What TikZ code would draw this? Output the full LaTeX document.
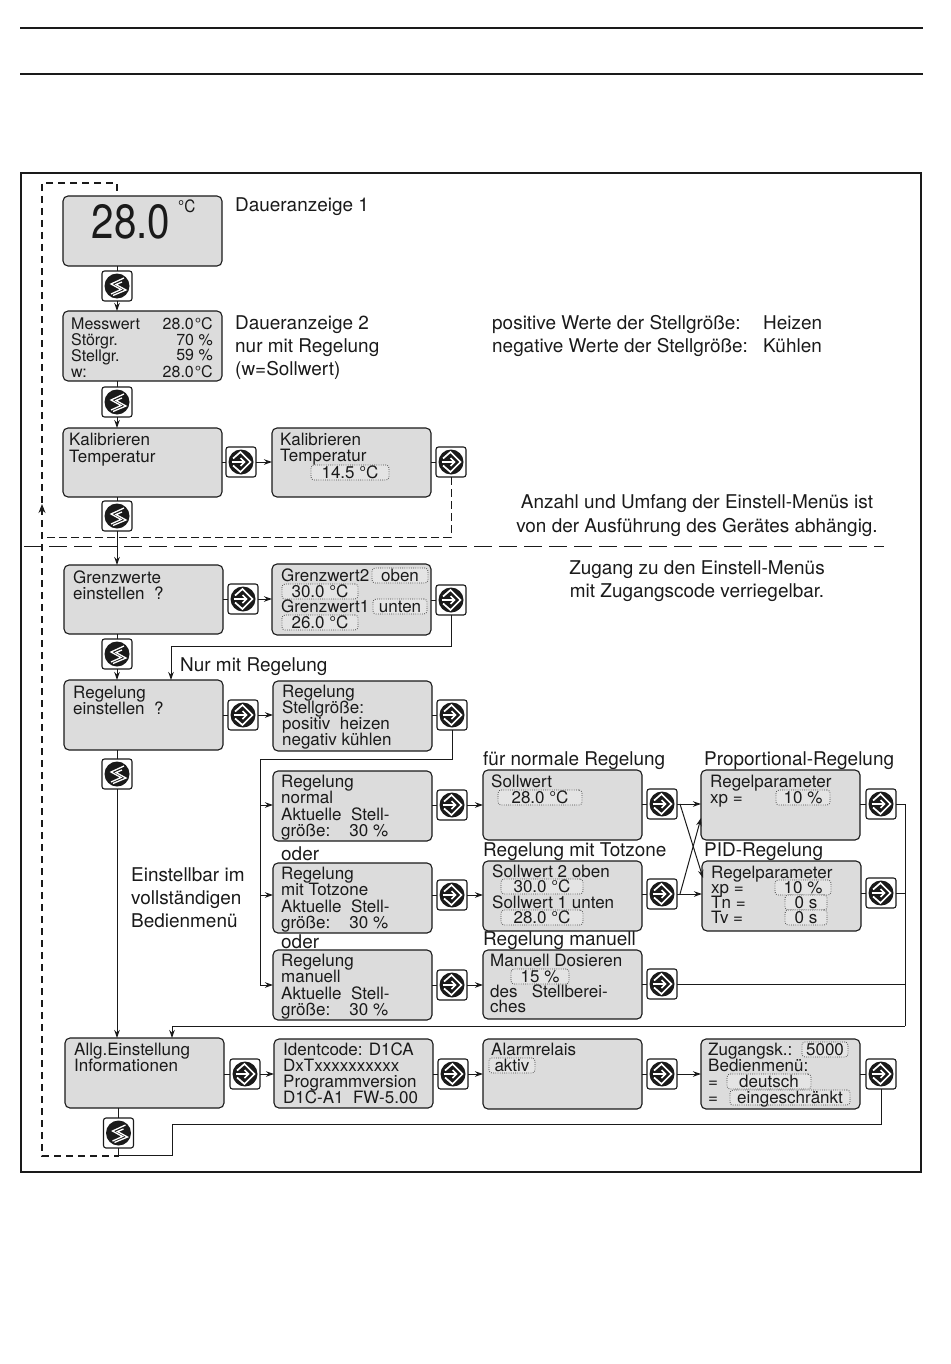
\documentclass[tikz,border=0pt]{standalone}
\usepackage{fontspec}
\usepackage{graphicx}
\setmainfont{TeX Gyre Heros}
\usetikzlibrary{arrows.meta,calc}
\definecolor{lcdgray}{HTML}{DCDCDC}
\definecolor{fldgray}{HTML}{E4E4E4}
\definecolor{ink}{HTML}{1A1A1A}
\newcounter{tcnt}
\tikzset{
  lcdbox/.style={draw=ink,fill=lcdgray,line width=1.1pt,rounded corners=5pt,inner sep=0pt,outer sep=0pt},
  btn/.style={draw=ink,fill=white,line width=1.1pt,rounded corners=2.5pt,minimum width=30pt,minimum height=30pt,inner sep=0pt,outer sep=0pt},
  conn/.style={draw=ink,line width=1pt},
  arr/.style={conn,-{Stealth[length=8pt,width=5.5pt]}},
  loopdash/.style={draw=ink,line width=1.1pt,dash pattern=on 7pt off 5pt},
  thindash/.style={draw=ink,line width=1pt,dash pattern=on 8pt off 4pt},
  longdash/.style={draw=ink,line width=1pt,dash pattern=on 18pt off 7pt},
  frameline/.style={draw=ink,line width=1.6pt},
  lt/.style={anchor=base west,inner sep=0pt,text=ink,font=\fontsize{17}{18}\selectfont},
  rt/.style={anchor=base east,inner sep=0pt,text=ink,font=\fontsize{16}{18}\selectfont},
  ot/.style={anchor=base west,inner sep=0pt,text=ink,font=\fontsize{18.95}{20}\selectfont},
  oc/.style={anchor=base,inner sep=0pt,text=ink,font=\fontsize{18.95}{20}\selectfont},
  fieldbox/.style={anchor=base,draw=ink!80,fill=fldgray,line width=.8pt,dash pattern=on .8pt off 1.4pt,rounded corners=3pt,inner xsep=0pt,inner ysep=1.5pt,text height=11.5pt,text depth=.5pt,text=ink,font=\fontsize{17}{18}\selectfont},
}
\newcommand{\lcd}[5]{%
  \pgfmathsetmacro{\lcdw}{#4-#2}\pgfmathsetmacro{\lcdh}{#5-#3}%
  \pgfmathsetmacro{\lcdx}{(#4+#2)/2}\pgfmathsetmacro{\lcdy}{(#5+#3)/2}%
  \node[lcdbox,minimum width=\lcdw pt,minimum height=\lcdh pt] (#1) at (\lcdx,\lcdy) {};}
\newcommand{\lt}[3]{\stepcounter{tcnt}\node[lt] (t\arabic{tcnt}) at (#1,#2) {#3};}
\newcommand{\rt}[3]{\stepcounter{tcnt}\node[rt] (t\arabic{tcnt}) at (#1,#2) {#3};}
\newcommand{\ot}[3]{\stepcounter{tcnt}\node[ot] (t\arabic{tcnt}) at (#1,#2) {#3};}
\newcommand{\oc}[3]{\stepcounter{tcnt}\node[oc] (t\arabic{tcnt}) at (#1,#2) {#3};}
\newcommand{\fld}[4]{\stepcounter{tcnt}\node[fieldbox,minimum width=#3 pt] (t\arabic{tcnt}) at (#1,#2) {#4};}
\newcommand{\sbtn}[3]{%
  \node[btn] (#1) at (#2,#3) {};
  \fill[ink] (#1.center) circle (12.5);
  \draw[white,line width=1.3pt,line join=miter] ($(#1.center)+(7,-8)$) -- ++(-13,6) -- ++(10,5.5) -- ++(-10,4.5);
  \draw[white,line width=1.3pt,line join=miter] ($(#1.center)+(5,-4)$) -- ++(-6,2.5) -- ++(10,5.5) -- ++(-13,5.5);}
\newcommand{\ebtn}[3]{%
  \node[btn] (#1) at (#2,#3) {};
  \fill[ink] (#1.center) circle (12.5);
  \draw[white,line width=1.7pt,line join=miter] ($(#1.center)+(-8,-3.5)$) -- ++(7.5,-6.5) -- ++(10,10) -- ++(-10,10) -- ++(-7.5,-6.5);
  \draw[white,line width=1.5pt] ($(#1.center)+(-9.5,0)$) -- ++(13,0);
  \draw[white,line width=1.5pt] ($(#1.center)+(-.5,-4)$) -- ++(4,4) -- ++(-4,4);}
\begin{document}
\begin{tikzpicture}[x=1pt,y=-1pt]
\useasboundingbox (0,0) rectangle (950,1364);
\fill[white] (0,0) rectangle (950,1364);
% header rules and frame
\coordinate (h1a) at (20,28); \coordinate (h1b) at (923,28);
\coordinate (h2a) at (20,74); \coordinate (h2b) at (923,74);
\draw[frameline] (h1a) -- (h1b);
\draw[frameline] (h2a) -- (h2b);
\draw[frameline] (21,173) rectangle (921,1172);
% boxes
\lcd{bA}{63}{196}{222}{266}
\lcd{bB}{63}{311}{222}{381}
\lcd{bC}{63}{428}{222}{497}
\lcd{bD}{272}{428}{431}{497}
\lcd{bE}{64}{565}{223}{634}
\lcd{bF}{272}{564}{431}{635}
\lcd{bG}{64}{680}{223}{750}
\lcd{bH}{273}{681}{432}{751}
\lcd{bI}{273}{771}{432}{841}
\lcd{bJ}{273}{863}{432}{933}
\lcd{bK}{273}{950}{432}{1020}
\lcd{bL}{483}{770}{642}{840}
\lcd{bM}{483}{861}{642}{931}
\lcd{bN}{483}{950}{642}{1019}
\lcd{bO}{701}{770}{860}{840}
\lcd{bP}{702}{861}{861}{931}
\lcd{bQ}{65}{1038}{224}{1108}
\lcd{bR}{274}{1039}{433}{1108}
\lcd{bS}{483}{1039}{642}{1109}
\lcd{bT}{701}{1039}{860}{1109}
% buttons
\sbtn{sA}{117}{286}
\sbtn{sB}{117}{402}
\sbtn{sC}{117}{516}
\sbtn{sD}{117}{654}
\sbtn{sE}{117}{774}
\sbtn{sF}{118.5}{1133}
\ebtn{eA}{241}{462}
\ebtn{eB}{451}{462}
\ebtn{eC}{243}{599}
\ebtn{eD}{451}{600}
\ebtn{eE}{243}{715}
\ebtn{eF}{452}{715}
\ebtn{eG}{452}{805}
\ebtn{eH}{452}{895}
\ebtn{eI}{452}{985}
\ebtn{eJ}{662}{804}
\ebtn{eK}{662}{894}
\ebtn{eL}{662}{984}
\ebtn{eM}{881}{804}
\ebtn{eN}{881}{893}
\ebtn{eO}{245}{1074}
\ebtn{eP}{453}{1074}
\ebtn{eQ}{662}{1074}
\ebtn{eR}{881}{1074}
% helper coordinates
\coordinate (lpT) at (42,183); \coordinate (lpB) at (42,1156);
\coordinate (lpS) at (117,191); \coordinate (lpM) at (42,537);
\coordinate (lpA) at (42,504);
\coordinate (ldA) at (24,546); \coordinate (ldB) at (884,546);
\coordinate (trunk) at (260,759);
\coordinate (ret) at (905,1026);
\coordinate (retB) at (172,1026);
\coordinate (cross1) at (680,804); \coordinate (cross2) at (680,894);
\coordinate (nurR) at (171,646);
% dashed return loop
\draw[loopdash] (lpS) -- (117,183) -- (lpT) -- (lpB) -- (sF |- lpB);
\draw[thindash] (eB.south) -- (eB |- lpM) -- (lpM);
\draw[conn,-{Stealth[length=9pt,width=7pt]}] (lpA) ++(0,9) -- (lpA);
\draw[longdash] (ldA) -- (ldB);
% vertical chain
\draw[conn] (sA |- bA.south) -- (sA.north);
\draw[arr] (sA.south) -- (sA |- bB.north);
\draw[conn] (sB |- bB.south) -- (sB.north);
\draw[arr] (sB.south) -- (sB |- bC.north);
\draw[conn] (sC |- bC.south) -- (sC.north);
\draw[arr] (sC.south) -- (sC |- bE.north);
\draw[conn] (sD |- bE.south) -- (sD.north);
\draw[arr] (sD.south) -- (sD |- bG.north);
\draw[conn] (sE |- bG.south) -- (sE.north);
\draw[arr] (sE.south) -- (sE |- bQ.north);
\draw[conn] (sF |- bQ.south) -- (sF.north);
% horizontal chain
\foreach \l/\b/\r in {bC/eA/bD,bE/eC/bF,bG/eE/bH,bI/eG/bL,bJ/eH/bM,bK/eI/bN,bQ/eO/bR,bR/eP/bS,bS/eQ/bT}{
  \draw[conn] (\b -| \l.east) -- (\b.west);
  \draw[arr] (\b.east) -- (\b -| \r.west);
}
\foreach \l/\b in {bD/eB,bF/eD,bH/eF,bL/eJ,bM/eK,bN/eL,bO/eM,bP/eN,bT/eR}{
  \draw[conn] (\b -| \l.east) -- (\b.west);
}
% feedback links
\draw[arr] (eD.south) -- (eD |- nurR) -- (nurR) -- (nurR |- bG.north);
\draw[conn] (eF.south) -- (eF |- trunk) -- (trunk) -- (trunk |- eI);
\draw[arr] (trunk |- eG) -- (eG -| bI.west);
\draw[arr] (trunk |- eH) -- (eH -| bJ.west);
\draw[arr] (trunk |- eI) -- (eI -| bK.west);
% crossing links
\draw[arr] (eJ.east) -- (eJ -| bO.west);
\draw[arr] (eK.east) -- (eK -| bP.west);
\draw[arr] (cross1) -- (703,878);
\draw[arr] (cross2) -- (701,818);
% collecting return
\draw[conn] (eM.east) -- (eM -| ret) -- (ret);
\draw[conn] (eN.east) -- (eN -| ret);
\draw[conn] (eL.east) -- (eL -| ret);
\draw[arr] (ret) -- (retB) -- (retB |- bQ.north);
\draw[conn] (eR.south) -- (eR |- 0,1124) -- (172,1124) -- (172,1155) -- (sF |- 0,1155) -- (sF.south);
% big display
\node[anchor=base,inner sep=0pt,text=ink,font=\fontsize{48}{50}\selectfont] (bigt) at (131,239) {\scalebox{.84}[1]{28.0}};
\node[anchor=base west,inner sep=0pt,text=ink,font=\fontsize{17}{18}\selectfont] (bigu) at (178,213) {\scalebox{.9}[1]{°C}};
% outside labels
\ot{235}{212}{Daueranzeige 1}
\ot{235}{329}{Daueranzeige 2}
\ot{235}{352}{nur mit Regelung}
\ot{235}{375}{(w=Sollwert)}
\ot{492}{329}{positive Werte der Stellgröße:}
\ot{763}{329}{Heizen}
\ot{492}{352}{negative Werte der Stellgröße:}
\ot{763}{352}{Kühlen}
\oc{697}{508}{Anzahl und Umfang der Einstell-Menüs ist}
\oc{697}{532}{von der Ausführung des Gerätes abhängig.}
\oc{697}{574}{Zugang zu den Einstell-Menüs}
\oc{697}{597}{mit Zugangscode verriegelbar.}
\ot{180}{671}{Nur mit Regelung}
\ot{131}{881}{Einstellbar im}
\ot{131}{904}{vollständigen}
\ot{131}{927}{Bedienmenü}
\ot{281}{860}{oder}
\ot{281}{948}{oder}
\ot{483}{765}{für normale Regelung}
\ot{704}{765}{Proportional-Regelung}
\ot{483}{856}{Regelung mit Totzone}
\ot{704}{856}{PID-Regelung}
\ot{483}{945}{Regelung manuell}
% box B
\lt{71}{329}{\fontsize{16}{18}\selectfont Messwert}\rt{213}{329}{28.0\hspace{1pt}°C}
\lt{71}{345}{\fontsize{16}{18}\selectfont Störgr.}\rt{213}{345}{70 \%}
\lt{71}{361}{\fontsize{16}{18}\selectfont Stellgr.}\rt{213}{360}{59 \%}
\lt{71}{377}{\fontsize{16}{18}\selectfont w:}\rt{213}{377}{28.0\hspace{1pt}°C}
% calibrate
\lt{69}{445}{Kalibrieren}
\lt{69}{462}{Temperatur}
\lt{280}{445}{Kalibrieren}
\lt{280}{461}{Temperatur}
\fld{350}{478}{78}{14.5 °C}
% limits
\lt{73}{583}{Grenzwerte}
\lt{73}{599}{einstellen\ \ ?}
\fld{400}{581}{56}{oben}
\fld{400}{612}{54}{unten}
\fld{320}{597}{76}{30.0 °C}
\fld{320}{628}{76}{26.0 °C}
\lt{281}{581}{Grenzwert2}
\lt{281}{612}{Grenzwert1}
% regulation
\lt{73}{698}{Regelung}
\lt{73}{714}{einstellen\ \ ?}
\lt{282}{697}{Regelung}
\lt{282}{713}{Stellgröße:}
\lt{282}{729}{positiv\ \ heizen}
\lt{282}{745}{negativ kühlen}
\lt{281}{787}{Regelung}
\lt{281}{803}{normal}
\lt{281}{820}{Aktuelle\ \ Stell-}
\lt{281}{836}{größe:\ \ \ \hspace{5pt}30 \%}
\lt{281}{879}{Regelung}
\lt{281}{895}{mit Totzone}
\lt{281}{912}{Aktuelle\ \ Stell-}
\lt{281}{928}{größe:\ \ \ \hspace{5pt}30 \%}
\lt{281}{966}{Regelung}
\lt{281}{982}{manuell}
\lt{281}{999}{Aktuelle\ \ Stell-}
\lt{281}{1015}{größe:\ \ \ \hspace{5pt}30 \%}
% setpoints
\lt{491}{787}{Sollwert}
\fld{540}{803}{84}{28.0 °C}
\lt{492}{877}{Sollwert 2 oben}
\fld{542}{892}{82}{30.0 °C}
\lt{492}{908}{Sollwert 1 unten}
\fld{542}{923}{82}{28.0 °C}
\lt{490}{966}{Manuell Dosieren}
\fld{540}{982}{58}{15 \%}
\lt{490}{997}{des\ \ \ Stellberei-}
\lt{490}{1012}{ches}
% parameters
\lt{710}{787}{Regelparameter}
\lt{710}{803}{xp =}
\fld{803}{803}{54}{10 \%}
\lt{711}{878}{Regelparameter}
\lt{711}{893}{xp =}
\fld{803}{893}{56}{10 \%}
\lt{711}{908}{Tn =}
\fld{806}{908}{42}{0 s}
\lt{711}{923}{Tv =}
\fld{806}{923}{42}{0 s}
% general
\lt{74}{1055}{Allg.Einstellung}
\lt{74}{1071}{Informationen}
\lt{283}{1055}{Identcode: D1CA}
\lt{283}{1071}{DxTxxxxxxxxxx}
\lt{283}{1087}{Programmversion}
\lt{283}{1103}{D1C-A1\ \ FW-5.00}
\lt{491}{1055}{Alarmrelais}
\fld{512}{1071}{46}{aktiv}
\lt{708}{1055}{Zugangsk.:}
\fld{825}{1055}{46}{5000}
\lt{708}{1071}{Bedienmenü:}
\lt{708}{1087}{=}
\fld{769}{1087}{84}{deutsch\hspace{9pt}}
\lt{708}{1103}{=}
\fld{790}{1103}{120}{eingeschränkt}
\end{tikzpicture}
\end{document}
